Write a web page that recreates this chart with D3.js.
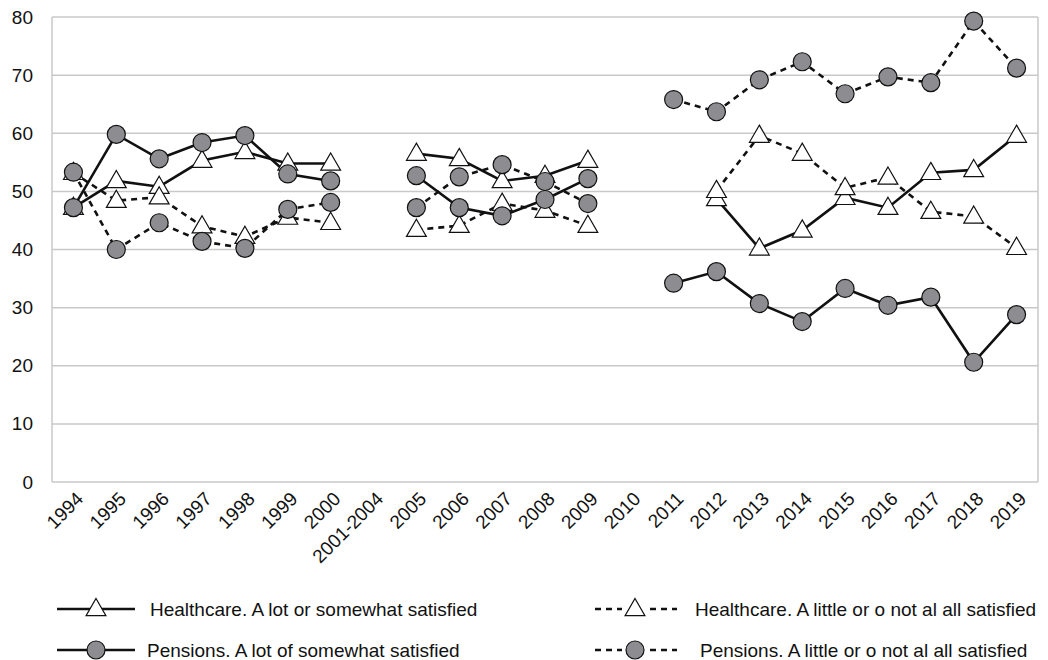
<!DOCTYPE html>
<html>
<head>
<meta charset="utf-8">
<script src="https://cdn.jsdelivr.net/npm/d3@7"></script>
<style>
  body { margin: 0; background: #fff; }
  svg text { font-family: "Liberation Sans", Arial, Helvetica, sans-serif; fill: #111; }
</style>
</head>
<body>
<svg id="chart" width="1048" height="660"></svg>
<script>
// categories on the x axis (gaps have no data)
var years = ["1994","1995","1996","1997","1998","1999","2000","2001-2004",
             "2005","2006","2007","2008","2009","2010",
             "2011","2012","2013","2014","2015","2016","2017","2018","2019"];

var yTicks = [0, 10, 20, 30, 40, 50, 60, 70, 80];

// values, null = no survey
var healthLot    = [47.2, 51.8, 50.8, 55.3, 56.8, 54.8, 54.8, null,
                    56.5, 55.6, 51.8, 52.7, 55.3, null,
                    null, 48.7, 40.2, 43.3, 48.9, 47.2, 53.2, 53.7, 59.6];
var healthLittle = [53.2, 48.4, 49.0, 44.0, 42.2, 45.5, 44.6, null,
                    43.4, 44.1, 47.9, 46.7, 44.1, null,
                    null, 50.1, 59.6, 56.5, 50.6, 52.4, 46.5, 45.7, 40.3];
var pensionLot   = [47.2, 59.8, 55.6, 58.4, 59.6, 53.0, 51.8, null,
                    52.7, 47.2, 45.8, 48.6, 52.2, null,
                    34.2, 36.2, 30.7, 27.6, 33.3, 30.4, 31.8, 20.6, 28.8];
var pensionLittle= [53.3, 40.0, 44.6, 41.4, 40.2, 46.9, 48.1, null,
                    47.2, 52.5, 54.6, 51.7, 47.9, null,
                    65.8, 63.7, 69.2, 72.3, 66.8, 69.7, 68.7, 79.3, 71.2];

var seriesNames = ["Healthcare. A lot or somewhat satisfied",
                   "Healthcare. A little or o not al all satisfied",
                   "Pensions. A lot of somewhat satisfied",
                   "Pensions. A little or o not al all satisfied"];

var series = [
  {name: seriesNames[0], values: healthLot,     dashed: false, marker: "triangle"},
  {name: seriesNames[1], values: healthLittle,  dashed: true,  marker: "triangle"},
  {name: seriesNames[2], values: pensionLot,    dashed: false, marker: "circle"},
  {name: seriesNames[3], values: pensionLittle, dashed: true,  marker: "circle"}
];

var margin = {left: 52, right: 10, top: 17, bottom: 178};
var svg = d3.select("#chart");
var W = +svg.attr("width"), H = +svg.attr("height");
var width = W - margin.left - margin.right,
    height = H - margin.top - margin.bottom;

var x = d3.scaleBand().domain(years).range([0, width]);
var y = d3.scaleLinear().domain([0, 80]).range([height, 0]);

var g = svg.append("g").attr("transform", "translate(" + margin.left + "," + margin.top + ")");

// grid
g.selectAll("line.grid")
    .data(yTicks)
    .enter().append("line")
    .attr("class", "grid")
    .attr("x1", 0).attr("x2", width)
    .attr("y1", function (d) { return y(d); })
    .attr("y2", function (d) { return y(d); })
    .attr("stroke", "#c9c9c9")
    .attr("stroke-width", 1.5);

// frame sides
g.append("line").attr("x1", 0).attr("x2", 0).attr("y1", 0).attr("y2", height)
    .attr("stroke", "#c9c9c9").attr("stroke-width", 1.5);
g.append("line").attr("x1", width).attr("x2", width).attr("y1", 0).attr("y2", height)
    .attr("stroke", "#c9c9c9").attr("stroke-width", 1.5);

// y axis labels
var yAxis = g.append("g")
    .call(d3.axisLeft(y).tickValues(yTicks).tickSize(0).tickPadding(19));
yAxis.select(".domain").remove();
yAxis.selectAll("text").style("font-size", "19px").attr("fill", "#111");

// x axis labels
var xAxis = g.append("g")
    .attr("transform", "translate(0," + height + ")")
    .call(d3.axisBottom(x).tickSize(0));
xAxis.select(".domain").remove();
xAxis.selectAll("text")
    .style("font-size", "19px")
    .attr("text-anchor", "end")
    .attr("dy", null).attr("y", 0)
    .attr("transform", "translate(11,18) rotate(-45)");

var cx = function (i) { return x(years[i]) + x.bandwidth() / 2; };

var line = d3.line()
    .defined(function (d) { return d != null; })
    .x(function (d, i) { return cx(i); })
    .y(function (d) { return y(d); });

var triangle = d3.symbol().type(d3.symbolTriangle).size(170);

function drawMarker(sel, type) {
    if (type === "circle") {
        sel.append("circle").attr("r", 9)
            .attr("fill", "#8d8d91").attr("stroke", "#111").attr("stroke-width", 1.2);
    } else {
        sel.append("path").attr("d", triangle).attr("transform", "translate(0,1)")
            .attr("fill", "#fff").attr("stroke", "#111").attr("stroke-width", 1.2);
    }
}

series.forEach(function (s) {
    g.append("path")
        .datum(s.values)
        .attr("fill", "none")
        .attr("stroke", "#111")
        .attr("stroke-width", 2.6)
        .attr("stroke-dasharray", s.dashed ? "6,5" : null)
        .attr("d", line);
});

series.forEach(function (s) {
    var pts = g.selectAll(null)
        .data(s.values.map(function (v, i) { return {v: v, i: i}; })
                      .filter(function (d) { return d.v != null; }))
        .enter().append("g")
        .attr("transform", function (d) { return "translate(" + cx(d.i) + "," + y(d.v) + ")"; });
    drawMarker(pts, s.marker);
});

// legend
var legendItems = [
  {s: series[0], lx: 57,  tx: 150, ly: 609},
  {s: series[2], lx: 57,  tx: 147, ly: 650},
  {s: series[1], lx: 595, tx: 695, ly: 609},
  {s: series[3], lx: 595, tx: 700, ly: 650}
];

var lg = svg.selectAll("g.legend")
    .data(legendItems)
    .enter().append("g")
    .attr("class", "legend")
    .attr("transform", function (d) { return "translate(" + d.lx + "," + d.ly + ")"; });

lg.append("line")
    .attr("x1", 0)
    .attr("x2", function (d) { return d.s.dashed ? 82 : 78; })
    .attr("y1", 0).attr("y2", 0)
    .attr("stroke", "#111").attr("stroke-width", 2.6)
    .attr("stroke-dasharray", function (d) { return d.s.dashed ? "6,5" : null; });

lg.each(function (d) {
    var m = d3.select(this).append("g")
        .attr("transform", "translate(" + (d.s.dashed ? 40 : 39) + ",0)");
    if (d.s.dashed) {
        m.append("rect").attr("x", -13).attr("y", -4).attr("width", 26).attr("height", 8).attr("fill", "#fff");
    }
    drawMarker(m, d.s.marker);
});

lg.append("text")
    .attr("x", function (d) { return d.tx - d.lx; })
    .attr("y", 0)
    .attr("dy", "0.35em")
    .style("font-size", "19px")
    .text(function (d) { return d.s.name; });
</script>
</body>
</html>
